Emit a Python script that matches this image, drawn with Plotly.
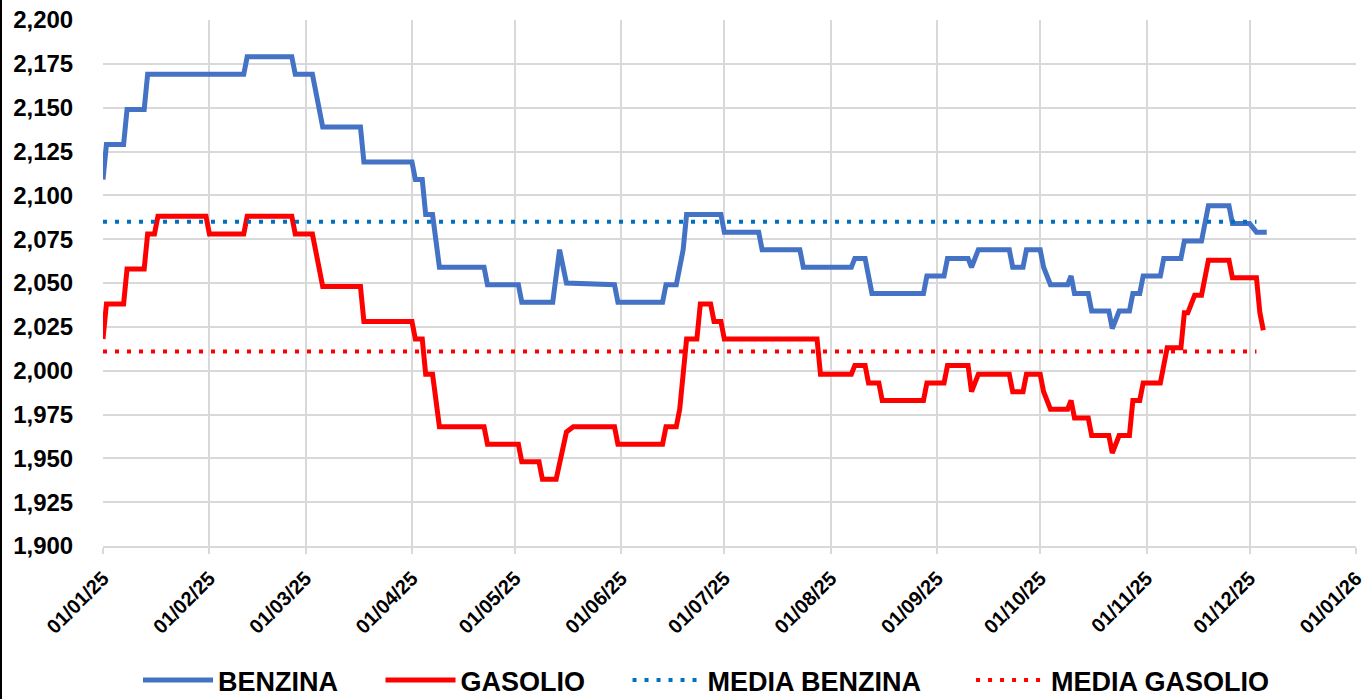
import plotly.graph_objects as go

# ---- data ----
benzina_dates = [
    "2025-01-01", "2025-01-02", "2025-01-07", "2025-01-08", "2025-01-13", "2025-01-14",
    "2025-02-11", "2025-02-12", "2025-02-25", "2025-02-26", "2025-03-03", "2025-03-04",
    "2025-03-06", "2025-03-17", "2025-03-18", "2025-04-01", "2025-04-02", "2025-04-04",
    "2025-04-05", "2025-04-07", "2025-04-09", "2025-04-22", "2025-04-23", "2025-05-02",
    "2025-05-03", "2025-05-12", "2025-05-14", "2025-05-16", "2025-05-30", "2025-05-31",
    "2025-06-13", "2025-06-14", "2025-06-17", "2025-06-19", "2025-06-20", "2025-06-30",
    "2025-07-01", "2025-07-11", "2025-07-12", "2025-07-23", "2025-07-24", "2025-08-07",
    "2025-08-08", "2025-08-11", "2025-08-12", "2025-08-13", "2025-08-28", "2025-08-29",
    "2025-09-03", "2025-09-04", "2025-09-10", "2025-09-11", "2025-09-13", "2025-09-22",
    "2025-09-23", "2025-09-26", "2025-09-27", "2025-10-01", "2025-10-02", "2025-10-04",
    "2025-10-09", "2025-10-10", "2025-10-11", "2025-10-15", "2025-10-16", "2025-10-21",
    "2025-10-22", "2025-10-24", "2025-10-27", "2025-10-28", "2025-10-30", "2025-10-31",
    "2025-11-05", "2025-11-06", "2025-11-11", "2025-11-12", "2025-11-17", "2025-11-19",
    "2025-11-25", "2025-11-26", "2025-12-01", "2025-12-03", "2025-12-06",
]
benzina_values = [
    2.109, 2.129, 2.129, 2.149, 2.149, 2.169,
    2.169, 2.179, 2.179, 2.169, 2.169, 2.160,
    2.139, 2.139, 2.119, 2.119, 2.109, 2.109,
    2.089, 2.089, 2.059, 2.059, 2.049, 2.049,
    2.039, 2.039, 2.069, 2.050, 2.049, 2.039,
    2.039, 2.049, 2.049, 2.069, 2.089, 2.089,
    2.079, 2.079, 2.069, 2.069, 2.059, 2.059,
    2.064, 2.064, 2.054, 2.044, 2.044, 2.054,
    2.054, 2.064, 2.064, 2.059, 2.069, 2.069,
    2.059, 2.059, 2.069, 2.069, 2.059, 2.049,
    2.049, 2.054, 2.044, 2.044, 2.034, 2.034,
    2.024, 2.034, 2.034, 2.044, 2.044, 2.054,
    2.054, 2.064, 2.064, 2.074, 2.074, 2.094,
    2.094, 2.084, 2.084, 2.079, 2.079,
]

gasolio_dates = [
    "2025-01-01", "2025-01-02", "2025-01-07", "2025-01-08", "2025-01-13", "2025-01-14",
    "2025-01-16", "2025-01-17", "2025-01-31", "2025-02-01", "2025-02-11", "2025-02-12",
    "2025-02-25", "2025-02-26", "2025-03-03", "2025-03-04", "2025-03-06", "2025-03-17",
    "2025-03-18", "2025-04-01", "2025-04-02", "2025-04-04", "2025-04-05", "2025-04-07",
    "2025-04-09", "2025-04-22", "2025-04-23", "2025-05-02", "2025-05-03", "2025-05-08",
    "2025-05-09", "2025-05-13", "2025-05-14", "2025-05-16", "2025-05-18", "2025-05-30",
    "2025-05-31", "2025-06-13", "2025-06-14", "2025-06-17", "2025-06-18", "2025-06-20",
    "2025-06-23", "2025-06-24", "2025-06-27", "2025-06-28", "2025-06-30", "2025-07-01",
    "2025-07-28", "2025-07-29", "2025-08-07", "2025-08-08", "2025-08-11", "2025-08-12",
    "2025-08-15", "2025-08-16", "2025-08-28", "2025-08-29", "2025-09-03", "2025-09-04",
    "2025-09-10", "2025-09-11", "2025-09-13", "2025-09-22", "2025-09-23", "2025-09-26",
    "2025-09-27", "2025-10-01", "2025-10-02", "2025-10-04", "2025-10-09", "2025-10-10",
    "2025-10-11", "2025-10-15", "2025-10-16", "2025-10-21", "2025-10-22", "2025-10-24",
    "2025-10-27", "2025-10-28", "2025-10-30", "2025-10-31", "2025-11-05", "2025-11-07",
    "2025-11-11", "2025-11-12", "2025-11-13", "2025-11-15", "2025-11-17", "2025-11-19",
    "2025-11-25", "2025-11-26", "2025-12-03", "2025-12-04", "2025-12-05",
]
gasolio_values = [
    2.018, 2.038, 2.038, 2.058, 2.058, 2.078,
    2.078, 2.088, 2.088, 2.078, 2.078, 2.088,
    2.088, 2.078, 2.078, 2.068, 2.048, 2.048,
    2.028, 2.028, 2.018, 2.018, 1.998, 1.998,
    1.968, 1.968, 1.958, 1.958, 1.948, 1.948,
    1.938, 1.938, 1.948, 1.965, 1.968, 1.968,
    1.958, 1.958, 1.968, 1.968, 1.978, 2.018,
    2.018, 2.038, 2.038, 2.028, 2.028, 2.018,
    2.018, 1.998, 1.998, 2.003, 2.003, 1.993,
    1.993, 1.983, 1.983, 1.993, 1.993, 2.003,
    2.003, 1.988, 1.998, 1.998, 1.988, 1.988,
    1.998, 1.998, 1.988, 1.978, 1.978, 1.983,
    1.973, 1.973, 1.963, 1.963, 1.953, 1.963,
    1.963, 1.983, 1.983, 1.993, 1.993, 2.013,
    2.013, 2.033, 2.033, 2.043, 2.043, 2.063,
    2.063, 2.053, 2.053, 2.033, 2.023,
]

media_dates = ["2025-01-01", "2025-12-03"]
media_benzina = [2.085, 2.085]
media_gasolio = [2.011, 2.011]

series_names = ["BENZINA", "GASOLIO", "MEDIA BENZINA", "MEDIA GASOLIO"]

x_range = ["2025-01-01", "2026-01-01"]
y_range = [1.9, 2.2]

FONT = "Liberation Sans"
GRID = "#d9d9d9"
NB = "\u00a0"

fig = go.Figure()
fig.add_trace(go.Scatter(x=benzina_dates, y=benzina_values, mode="lines",
                         name=series_names[0] + NB * 5,
                         line=dict(color="#4472C4", width=5)))
fig.add_trace(go.Scatter(x=gasolio_dates, y=gasolio_values, mode="lines",
                         name=series_names[1] + NB * 5,
                         line=dict(color="#FF0000", width=5)))
fig.add_trace(go.Scatter(x=media_dates, y=media_benzina, mode="lines",
                         name=series_names[2] + NB * 6,
                         line=dict(color="#0070C0", width=4, dash="4px,8px")))
fig.add_trace(go.Scatter(x=media_dates, y=media_gasolio, mode="lines",
                         name=series_names[3],
                         line=dict(color="#FF0000", width=4, dash="4px,8px")))

fig.update_layout(
    width=1371, height=699,
    margin=dict(l=103, r=15, t=20, b=153, autoexpand=False),
    paper_bgcolor="white", plot_bgcolor="white",
    separators=",.",
    font=dict(family=FONT, color="black"),
    showlegend=True,
    legend=dict(orientation="h", x=(138 - 103) / 1253, xanchor="left",
                y=(546 - 705) / 526, yanchor="bottom",
                font=dict(family=FONT, size=27, weight="bold", color="black"),
                itemwidth=70, traceorder="normal"),
    xaxis=dict(range=x_range, type="date", dtick="M1", tick0="2025-01-01",
               tickformat="%d/%m/%y", tickangle=-45, automargin=False,
               tickfont=dict(family=FONT, size=20, weight="bold", color="black"),
               ticklabelstandoff=5,
               showgrid=True, gridcolor=GRID, gridwidth=1.5,
               ticks="outside", ticklen=6, tickcolor=GRID, tickwidth=1.5,
               showline=True, linecolor=GRID, linewidth=1.5, zeroline=False),
    yaxis=dict(range=y_range, dtick=0.025, tick0=1.9, tickformat=".3f", automargin=False,
               tickfont=dict(family=FONT, size=24, weight="bold", color="black"),
               showgrid=True, gridcolor=GRID, gridwidth=1.5,
               ticks="outside", ticklen=24, tickcolor="rgba(0,0,0,0)",
               showline=False, zeroline=False),
    shapes=[dict(type="line", xref="paper", yref="paper",
                 x0=-102/1253, x1=-102/1253, y0=-153/526, y1=(546)/526,
                 line=dict(color="black", width=2))],
)

fig.write_html("out.html", config={"displayModeBar": False},
               post_script="document.body.style.margin='0px';document.body.style.overflow='hidden';")
